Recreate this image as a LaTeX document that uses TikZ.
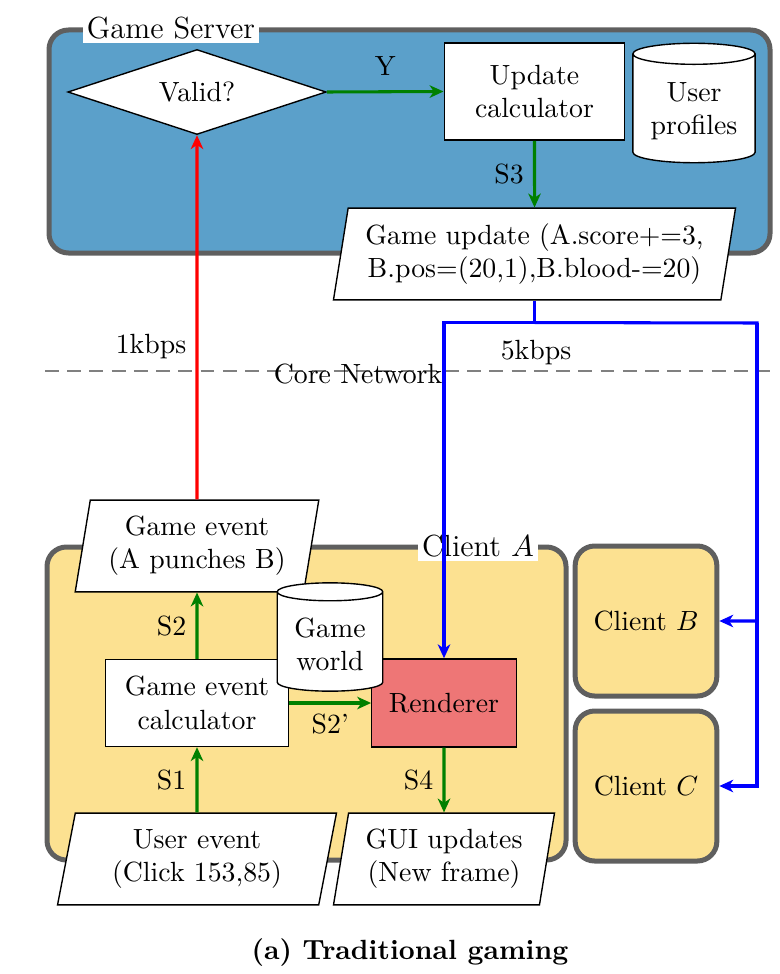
\documentclass[tikz,border=0pt]{standalone}
\usepackage{amsmath}
\usepackage{tikz}
\usetikzlibrary{shapes.geometric,arrows.meta}
\definecolor{serverblue}{RGB}{91,160,202}
\definecolor{clientyellow}{RGB}{252,225,145}
\definecolor{renderred}{RGB}{238,118,118}
\definecolor{boxgray}{RGB}{95,95,95}
\definecolor{flowgreen}{RGB}{0,128,0}

\begin{document}
\begin{tikzpicture}[x=0.36pt,y=-0.36pt,
  area/.style={draw=boxgray, line width=1.8pt, rounded corners=7pt},
  areatitle/.style={fill=white, inner sep=1.5pt, font=\fontsize{11}{13}\selectfont},
  proc/.style={draw, fill=white, line width=0.5pt, align=center},
  io/.style={trapezium, trapezium left angle=80, trapezium right angle=100,
    trapezium stretches=true, draw, fill=white, line width=0.5pt,
    align=center, minimum height=33pt},
  store/.style={cylinder, shape border rotate=90, aspect=0.2, draw,
    fill=white, line width=0.5pt, align=center, anchor=shape center},
  flow/.style={#1, line width=1.1pt, text=black,
    -{Stealth[length=5pt,width=4.5pt,inset=1.5pt]}}]
% Juego tradicional: servidor, red troncal y clientes
\useasboundingbox (0,0) rectangle (780,974);
\draw[area, fill=serverblue] (49,30) rectangle (770,253);
\draw[area, fill=clientyellow] (47,547) rectangle (566,860);
\node (servertitle) at (171,28) [areatitle] {Game Server};
\node (clientAtitle) at (478,546) [areatitle] {Client $A$};
\node (clientB) at (646,621) [area, fill=clientyellow, minimum width=51pt, minimum height=54pt] {Client $B$};
\node (clientC) at (646,786) [area, fill=clientyellow, minimum width=51pt, minimum height=54pt] {Client $C$};
\draw[gray, line width=0.7pt, dash pattern=on 5pt off 3pt] (45,371) -- (773,371);
\node (core) at (358,374) {Core Network};
\node (rate) at (536,353) {5kbps};

\node (valid) at (197,92) [diamond, aspect=3, draw, fill=white, line width=0.5pt, minimum width=93pt, minimum height=30.6pt] {Valid?};
\node (updcalc) at (534.5,91.5) [proc, minimum width=65pt, minimum height=35pt] {Update\\calculator};
\node (profiles) at (694,103) [store, minimum width=44pt, minimum height=43pt] {User\\profiles};
\node (gameupdate) at (534.5,254) [io, minimum width=145pt] {Game update (A.score+=3,\\B.pos=(20,1),B.blood-=20)};
\node (gameevent) at (197,546) [io, minimum width=88pt] {Game event\\(A punches B)};
\node (calc) at (197,703) [proc, minimum width=66pt, minimum height=31.3pt] {Game event\\calculator};
\node (renderer) at (444,703) [proc, fill=renderred, minimum width=52pt, minimum height=31.7pt] {Renderer};
\node (world) at (330,637) [store, minimum width=38pt, minimum height=39pt] {Game\\world};
\node (userevent) at (197,859) [io, minimum width=101pt] {User event\\(Click 153,85)};
\node (gui) at (444,859) [io, minimum width=80pt] {GUI updates\\(New frame)};
\node (caption) at (410,953) {\bfseries (a) Traditional gaming};

\draw[flow=flowgreen] (valid.east) -- node[above=2pt] {Y} (updcalc.west);
\draw[flow=flowgreen] (updcalc.south) -- node[left] {S3} (gameupdate.north);
\draw[flow=red] (gameevent.north) -- node[pos=0.42, left] {1kbps} (valid.south);
\draw[line width=1.1pt, blue] (gameupdate.south) -- ++(0,22) coordinate (split);
\coordinate (bus) at (757,323);
\draw[flow=blue] (split) -| (renderer.north);
\draw[flow=blue] (split) -- (bus) |- (clientB.east);
\draw[flow=blue] (bus) |- (clientC.east);
\draw[flow=flowgreen] (calc.north) -- node[left] {S2} (gameevent.south);
\draw[flow=flowgreen] (userevent.north) -- node[left] {S1} (calc.south);
\draw[flow=flowgreen] (calc.east) -- node[below] {S2'} (renderer.west);
\draw[flow=flowgreen] (renderer.south) -- node[left] {S4} (gui.north);
\end{tikzpicture}
\end{document}
